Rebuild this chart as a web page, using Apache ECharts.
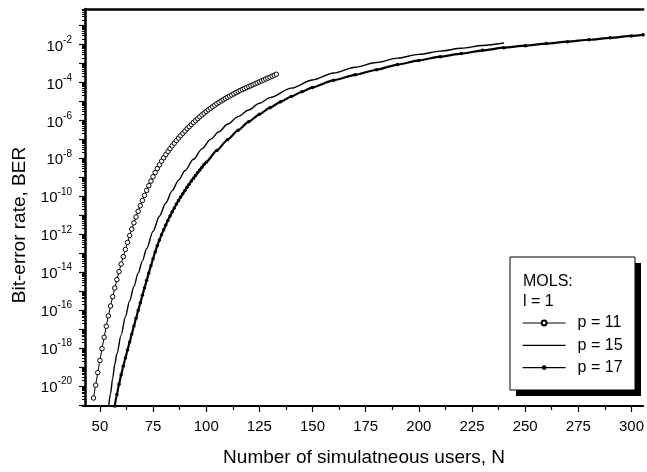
<!DOCTYPE html>
<html>
<head>
  <meta charset="UTF-8">
  <title>Bit-error rate vs number of simultaneous users</title>
  <script src="https://cdn.jsdelivr.net/npm/echarts@6.0.0/dist/echarts.min.js"></script>
  <style>
    html, body { margin: 0; padding: 0; background: #fff; }
    #chart { width: 647px; height: 472px; }
  </style>
</head>
<body>
  <div id="chart"></div>
  <script>
    // p = 11 : number of users N and log10(BER)
    const usersP11 = [47, 48, 49, 50, 51, 52, 53, 54, 55, 56, 57, 58, 59, 60, 61, 62, 63, 64, 65, 66,
      67, 68, 69, 70, 71, 72, 73, 74, 75, 76, 77, 78, 79, 80, 81, 82, 83, 84, 85, 86,
      87, 88, 89, 90, 91, 92, 93, 94, 95, 96, 97, 98, 99, 100, 101, 102, 103, 104, 105, 106,
      107, 108, 109, 110, 111, 112, 113, 114, 115, 116, 117, 118, 119, 120, 121, 122, 123, 124, 125, 126,
      127, 128, 129, 130, 131, 132, 133];
    const berExpP11 = [-20.63, -19.95, -19.29, -18.65, -18.03, -17.43, -16.85, -16.30, -15.78, -15.29,
      -14.83, -14.39, -13.97, -13.57, -13.18, -12.80, -12.43, -12.07, -11.73, -11.40,
      -11.09, -10.79, -10.50, -10.22, -9.95, -9.69, -9.44, -9.20, -8.97, -8.75,
      -8.54, -8.34, -8.15, -7.97, -7.80, -7.64, -7.49, -7.34, -7.20, -7.06,
      -6.93, -6.80, -6.68, -6.56, -6.44, -6.33, -6.22, -6.11, -6.01, -5.91,
      -5.81, -5.71, -5.62, -5.53, -5.44, -5.36, -5.28, -5.20, -5.12, -5.05,
      -4.98, -4.91, -4.84, -4.78, -4.72, -4.66, -4.60, -4.54, -4.48, -4.42,
      -4.37, -4.32, -4.27, -4.22, -4.17, -4.12, -4.07, -4.02, -3.97, -3.92,
      -3.87, -3.82, -3.77, -3.72, -3.67, -3.62, -3.57];

    // p = 15
    const usersP15 = [54.2, 55, 56, 57, 58, 60, 62, 64, 66, 68, 70, 72, 75, 78, 81, 84, 87, 90, 94, 98,
      102, 106, 110, 115, 120, 125, 130, 140, 150, 160, 170, 180, 190, 200, 210, 220, 230, 240];
    const berExpP15 = [-21.0, -20.4, -19.6, -18.85, -18.3, -17.3, -16.35, -15.5, -14.75, -14.05,
      -13.4, -12.75, -11.85, -11.05, -10.35, -9.7, -9.15, -8.65, -8.05, -7.5,
      -7.0, -6.6, -6.2, -5.8, -5.45, -5.1, -4.8, -4.3, -3.87, -3.5,
      -3.2, -2.95, -2.72, -2.52, -2.35, -2.2, -2.05, -1.92];

    // p = 17
    const usersP17 = [57, 58, 59, 60, 61, 62, 63, 64, 65, 66, 67, 68, 69, 70, 71, 72, 73, 74, 75, 76,
      77, 78, 79, 80, 81, 82, 83, 84, 85, 86, 87, 88, 89, 90, 91, 92, 93, 94, 95, 96,
      97, 98, 99, 100, 105, 110, 115, 120, 125, 130, 135, 140, 145, 150, 160, 170, 180, 190, 200, 210,
      220, 230, 240, 250, 260, 270, 280, 290, 300, 305.5];
    const berExpP17 = [-21.05, -20.45, -19.90, -19.40, -18.95, -18.52, -18.10, -17.68, -17.26, -16.84,
      -16.43, -16.02, -15.62, -15.22, -14.82, -14.43, -14.04, -13.66, -13.29, -12.93,
      -12.60, -12.30, -12.02, -11.76, -11.51, -11.27, -11.04, -10.82, -10.61, -10.41,
      -10.22, -10.04, -9.86, -9.69, -9.52, -9.36, -9.20, -9.05, -8.90, -8.75,
      -8.61, -8.47, -8.33, -8.20, -7.58, -7.02, -6.52, -6.07, -5.68, -5.33,
      -5.02, -4.74, -4.49, -4.26, -3.88, -3.60, -3.33, -3.06, -2.84, -2.64,
      -2.48, -2.31, -2.17, -2.06, -1.95, -1.85, -1.75, -1.65, -1.55, -1.49];

    const xTicks = [50, 75, 100, 125, 150, 175, 200, 225, 250, 275, 300];
    const xMinorTicks = [62.5, 87.5, 112.5, 137.5, 162.5, 187.5, 212.5, 237.5, 262.5, 287.5];
    const yLabelExps = [-20, -18, -16, -14, -12, -10, -8, -6, -4, -2];
    const yTickExps = [-21, -20, -19, -18, -17, -16, -15, -14, -13, -12, -11, -10, -9, -8, -7, -6, -5, -4, -3, -2, -1];

    const X_MIN = 43, X_MAX = 305.5;
    const Y_EXP_MIN = -21.05, Y_EXP_MAX = -0.13;
    const FONT = '"Liberation Sans", Arial, sans-serif';

    // log minor ticks (2..9 within each decade), in exponent space
    const yMinorExps = [];
    for (let d = -22; d < 0; d++) {
      for (let k = 2; k <= 9; k++) {
        const e = d + Math.log10(k);
        if (e > Y_EXP_MIN && e < Y_EXP_MAX) yMinorExps.push(e);
      }
    }

    const toPairs = (xs, exps) => xs.map((n, i) => [n, Math.pow(10, exps[i])]);

    const chart = echarts.init(document.getElementById('chart'));
    chart.setOption({
      animation: false,
      backgroundColor: '#fff',
      grid: { left: 85, right: 0, top: 9, bottom: 64 },
      xAxis: [
        {
          type: 'value', min: X_MIN, max: X_MAX, position: 'bottom',
          axisLine: { lineStyle: { color: '#000', width: 2 } },
          axisTick: { customValues: xTicks, length: 6, lineStyle: { color: '#000', width: 1.2 } },
          axisLabel: { customValues: xTicks, fontSize: 15, color: '#000', fontFamily: FONT, margin: 13 },
          splitLine: { show: false },
          name: 'Number of simulatneous users, N',
          nameLocation: 'middle', nameGap: 42,
          nameTextStyle: { fontSize: 19, color: '#000', fontFamily: FONT }
        },
        {
          type: 'value', min: X_MIN, max: X_MAX, position: 'bottom',
          axisLine: { show: false },
          axisTick: { customValues: xMinorTicks, length: 4, lineStyle: { color: '#000', width: 1.2 } },
          axisLabel: { show: false },
          splitLine: { show: false }
        },
        {
          type: 'value', min: X_MIN, max: X_MAX, position: 'top',
          axisLine: { lineStyle: { color: '#000', width: 2.5 } },
          axisTick: { show: false }, axisLabel: { show: false }, splitLine: { show: false }
        }
      ],
      yAxis: [
        {
          type: 'log', logBase: 10,
          min: Math.pow(10, Y_EXP_MIN), max: Math.pow(10, Y_EXP_MAX),
          show: false
        },
        {
          type: 'value', min: Y_EXP_MIN, max: Y_EXP_MAX, position: 'left',
          axisLine: { lineStyle: { color: '#000', width: 2.5 } },
          axisTick: { customValues: yTickExps, length: 6, lineStyle: { color: '#000', width: 1.2 } },
          axisLabel: {
            customValues: yLabelExps, margin: 13,
            formatter: v => '{b|10}{s|' + Math.round(v) + '}',
            rich: {
              b: { fontSize: 15, color: '#000', fontFamily: FONT, verticalAlign: 'bottom', padding: [4, 0, 0, 0] },
              s: { fontSize: 10, color: '#000', fontFamily: FONT, verticalAlign: 'top' }
            }
          },
          splitLine: { show: false },
          name: 'Bit-error rate, BER',
          nameLocation: 'middle', nameGap: 56,
          nameTextStyle: { fontSize: 19, color: '#000', fontFamily: FONT, padding: [0, 35, 0, 0] }
        },
        {
          type: 'value', min: Y_EXP_MIN, max: Y_EXP_MAX, position: 'left',
          axisLine: { show: false },
          axisTick: { customValues: yMinorExps, length: 3, lineStyle: { color: '#000', width: 1 } },
          axisLabel: { show: false },
          splitLine: { show: false }
        }
      ],
      legend: {
        orient: 'vertical', left: 522, top: 312, padding: 0,
        itemWidth: 43, itemHeight: 6, itemGap: 0.3,
        selectedMode: false, z: 10,
        lineStyle: { width: 1.2 },
        textStyle: { fontSize: 16, color: '#000', fontFamily: FONT, lineHeight: 22, padding: [0, 0, 0, 7] },
        data: [
          { name: 'p = 11' },
          { name: 'p = 15', itemStyle: { opacity: 0 } },
          { name: 'p = 17' }
        ]
      },
      graphic: [
        { type: 'rect', z: 1, shape: { x: 516, y: 263, width: 125, height: 133 }, style: { fill: '#000' } },
        { type: 'rect', z: 2, shape: { x: 510, y: 257, width: 125, height: 133 },
          style: { fill: '#fff', stroke: '#000', lineWidth: 1 } },
        { type: 'text', z: 3, x: 523, y: 282,
          style: { text: 'MOLS:', fontSize: 16, fontFamily: FONT, fill: '#000', verticalAlign: 'middle' } },
        { type: 'text', z: 3, x: 523, y: 302,
          style: { text: 'l = 1', fontSize: 16, fontFamily: FONT, fill: '#000', verticalAlign: 'middle' } }
      ],
      series: [
        {
          name: 'p = 11', type: 'line', xAxisIndex: 0, yAxisIndex: 0,
          data: toPairs(usersP11, berExpP11),
          symbol: 'circle', symbolSize: 4.5, showAllSymbol: true,
          lineStyle: { color: '#000', width: 1 },
          itemStyle: { color: '#fff', borderColor: '#000', borderWidth: 1 },
          z: 4
        },
        {
          name: 'p = 15', type: 'line', xAxisIndex: 0, yAxisIndex: 0,
          data: toPairs(usersP15, berExpP15),
          symbol: 'none', smooth: 0.3, smoothMonotone: 'x',
          lineStyle: { color: '#000', width: 1.4 },
          itemStyle: { color: '#000' }
        },
        {
          name: 'p = 17', type: 'line', xAxisIndex: 0, yAxisIndex: 0,
          data: toPairs(usersP17, berExpP17),
          symbol: 'circle', symbolSize: 3.5, showAllSymbol: true, smooth: 0.2, smoothMonotone: 'x',
          lineStyle: { color: '#000', width: 2.2 },
          itemStyle: { color: '#000' }
        }
      ]
    });
  </script>
</body>
</html>
